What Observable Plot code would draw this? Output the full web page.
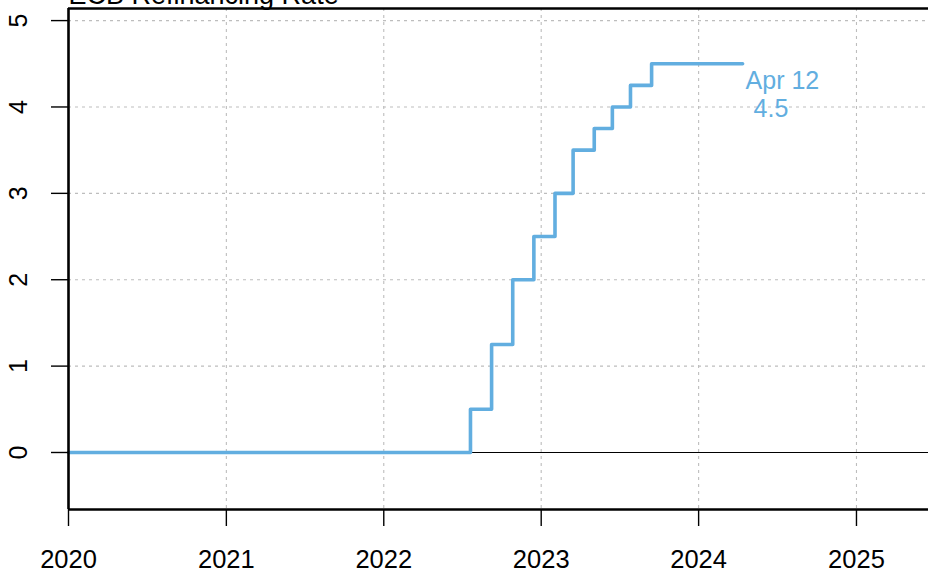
<!DOCTYPE html>
<html>
<head>
<meta charset="utf-8">
<script src="https://cdn.jsdelivr.net/npm/d3@7"></script>
<script src="https://cdn.jsdelivr.net/npm/@observablehq/plot@0.6"></script>
<style>
  html, body { margin: 0; padding: 0; background: #ffffff; }
  #chart svg { display: block; }
</style>
</head>
<body>
<div id="chart"></div>
<script>
// ---- data ----
const title = "ECB Refinancing Rate";
const dates = ["2020-01-01", "2022-07-21", "2022-09-08", "2022-10-27", "2022-12-15",
  "2023-02-02", "2023-03-16", "2023-05-04", "2023-06-15", "2023-07-27", "2023-09-14", "2024-04-12"];
const rates = [0, 0.5, 1.25, 2.0, 2.5, 3.0, 3.5, 3.75, 4.0, 4.25, 4.5, 4.5];
const yearTicks = [2020, 2021, 2022, 2023, 2024, 2025];
const yTicks = [0, 1, 2, 3, 4, 5];
const endLabel = ["Apr 12", "4.5"];

// ---- build ----
const blue = "#62aee0";
const font = "'Liberation Sans', Arial, Helvetica, sans-serif";
const data = dates.map((d, i) => ({date: new Date(d + "T00:00:00Z"), rate: rates[i]}));
const yearDates = yearTicks.map(y => new Date(Date.UTC(y, 0, 1)));
const xDomain = [new Date("2020-01-01T00:00:00Z"), new Date("2025-06-17T00:00:00Z")];
const yDomain = [-0.66, 5.14];
const last = data[data.length - 1];

const gridStyle = {stroke: "#bdbdbd", strokeOpacity: 1, strokeWidth: 1.1, strokeDasharray: "3,4"};

const chart = Plot.plot({
  width: 928,
  height: 572,
  marginLeft: 68,
  marginRight: 0,
  marginTop: 8,
  marginBottom: 63,
  style: {fontFamily: font, fontSize: "25px", background: "#ffffff", color: "#000"},
  x: {type: "utc", domain: xDomain},
  y: {domain: yDomain},
  marks: [
    Plot.gridX(yearDates.slice(1), gridStyle),
    Plot.gridY(yTicks.slice(1), gridStyle),
    Plot.ruleY([0], {stroke: "#000", strokeWidth: 1.2}),
    Plot.line(data, {x: "date", y: "rate", curve: "step-after", stroke: blue, strokeWidth: 3.6}),
    Plot.text([last], {x: "date", y: "rate", text: () => endLabel[0], textAnchor: "start",
      lineAnchor: "middle", dx: 3, dy: 17, fill: blue, fontSize: 25}),
    Plot.text([last], {x: "date", y: "rate", text: () => endLabel[1], textAnchor: "start",
      lineAnchor: "middle", dx: 11, dy: 45, fill: blue, fontSize: 25}),
    // frame (left, top, bottom)
    Plot.ruleX([xDomain[0]], {stroke: "#000", strokeWidth: 2.6}),
    Plot.ruleY([yDomain[0], yDomain[1]], {stroke: "#000", strokeWidth: 2.6}),
    // axes
    Plot.axisX(yearDates, {tickFormat: "%Y", tickSize: 17, tickPadding: 23, fontSize: 25.5,
      strokeWidth: 1.4, label: null}),
    Plot.axisY(yTicks, {tickSize: 17, tickFormat: () => "", strokeWidth: 1.4, label: null}),
    Plot.text(yTicks, {y: d => d, frameAnchor: "left", text: d => String(d), rotate: -90,
      dx: -50, textAnchor: "middle", lineAnchor: "middle", fontSize: 25, fill: "#000"}),
    // title (cut off at top as in reference)
    Plot.text([title], {frameAnchor: "top-left", text: d => d, textAnchor: "start",
      lineAnchor: "bottom", dy: -5, fontSize: 27, fill: "#000"})
  ]
});
document.getElementById("chart").appendChild(chart);
</script>
</body>
</html>
